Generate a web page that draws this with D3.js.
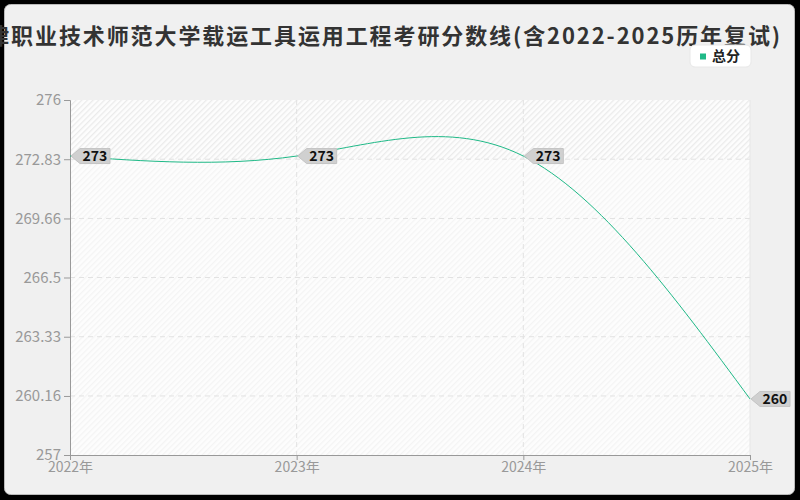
<!DOCTYPE html>
<html>
<head>
<meta charset="utf-8">
<script src="https://cdn.jsdelivr.net/npm/d3@7"></script>
<style>
  html, body { margin: 0; padding: 0; background: #000; }
  svg { display: block; font-family: "Noto Sans CJK SC", "Noto Sans", sans-serif; }
</style>
</head>
<body>
<div id="chart"></div>
<script>
// data
const years = ["2022年", "2023年", "2024年", "2025年"];
const scores = [273, 273, 273, 260];
const yTicks = [257, 260.16, 263.33, 266.5, 269.66, 272.83, 276];
const seriesName = "总分";
const title = "天津职业技术师范大学载运工具运用工程考研分数线(含2022-2025历年复试)";

const width = 800,
    height = 500,
    margin = ({top: 100, right: 50, bottom: 45, left: 70});

let svg = d3.select("#chart")
    .append("svg")
    .attr("width", width)
    .attr("height", height)
    .attr("viewBox", [0, 0, width, height]);

// hatch patterns for the plot background
let defs = svg.append("defs");
function hatch(id, stripe) {
    let p = defs.append("pattern")
        .attr("id", id)
        .attr("patternUnits", "userSpaceOnUse")
        .attr("width", 4).attr("height", 4)
        .attr("patternTransform", "rotate(45)");
    p.append("rect").attr("width", 4).attr("height", 4).attr("fill", "#fdfdfd");
    p.append("rect").attr("width", 1.3).attr("height", 4).attr("fill", stripe);
}
hatch("hatchTop", "#ebebeb");
hatch("hatchLow", "#f4f4f4");

// panel
svg.append("rect")
    .attr("x", 4.5).attr("y", 4.5)
    .attr("width", 790).attr("height", 490)
    .attr("rx", 6)
    .attr("fill", "#f0f0f0")
    .attr("stroke", "#bbb");

// scales
let x = d3.scalePoint()
    .domain(years)
    .range([margin.left, width - margin.right]);

let y = d3.scaleLinear()
    .domain([257, 276])
    .range([height - margin.bottom, margin.top]);

// plot background
svg.append("rect")
    .attr("x", margin.left).attr("y", margin.top)
    .attr("width", width - margin.left - margin.right)
    .attr("height", y(257) - y(276))
    .attr("fill", "url(#hatchLow)");
svg.append("rect")
    .attr("x", margin.left).attr("y", y(276))
    .attr("width", width - margin.left - margin.right)
    .attr("height", y(272.83) - y(276))
    .attr("fill", "url(#hatchTop)");

// grid lines
svg.append("g")
    .selectAll("line")
    .data(yTicks.slice(1, -1))
    .join("line")
    .attr("x1", margin.left).attr("x2", width - margin.right)
    .attr("y1", d => y(d)).attr("y2", d => y(d))
    .attr("stroke", "#e2e2e2")
    .attr("stroke-dasharray", "5,4");

svg.append("g")
    .selectAll("line")
    .data(years.slice(1))
    .join("line")
    .attr("x1", d => x(d)).attr("x2", d => x(d))
    .attr("y1", margin.top).attr("y2", height - margin.bottom)
    .attr("stroke", d => d === years[years.length - 1] ? "#e6e6e6" : "#e2e2e2")
    .attr("stroke-dasharray", d => d === years[years.length - 1] ? null : "5,4");

// axes
let yAxis = svg.append("g")
    .attr("transform", `translate(${margin.left},0)`)
    .call(d3.axisLeft(y).tickValues(yTicks).tickFormat(d => d).tickSize(6).tickPadding(3));

let xAxis = svg.append("g")
    .attr("transform", `translate(0,${height - margin.bottom})`)
    .call(d3.axisBottom(x).tickSize(5).tickPadding(2));

[yAxis, xAxis].forEach(g => {
    g.select(".domain").attr("stroke", "#999");
    g.selectAll(".tick line").attr("stroke", "#999");
    g.selectAll(".tick text")
        .attr("fill", "#999")
        .style("font-size", "14px")
        .style("font-family", "'Noto Sans CJK SC', 'Noto Sans', sans-serif");
});
yAxis.selectAll(".tick text").style("font-size", "15px");
xAxis.select(".domain").attr("d", `M${margin.left},0.5H${width - margin.right}`);

// line
let points = years.map((d, i) => [x(d), y(scores[i])]);
svg.append("path")
    .attr("d", d3.line().curve(d3.curveNatural)(points))
    .attr("fill", "none")
    .attr("stroke", "#1fb987")
    .attr("stroke-width", 1);

// value tags
let tag = svg.append("g")
    .selectAll("g")
    .data(points)
    .join("g")
    .attr("transform", d => `translate(${d[0] + 1},${d[1]})`);

tag.append("path")
    .attr("d", "M0,0L9,-7.5H39V7.5H9Z")
    .attr("fill", "#d0d0d0")
    .attr("stroke", "#c4c4c4");

tag.append("text")
    .text((d, i) => scores[i])
    .attr("x", 11.5)
    .attr("y", 5)
    .style("font-size", "14px")
    .style("font-weight", "bold")
    .style("fill", "#111");

// title
svg.append("text")
    .text(title)
    .attr("x", 782)
    .attr("y", 43.5)
    .attr("text-anchor", "end")
    .style("font-size", "22px")
    .style("letter-spacing", "1.9px")
    .style("font-weight", "bold")
    .style("fill", "#333");

// legend
let legend = svg.append("g").attr("transform", "translate(690,45)");
legend.append("rect")
    .attr("width", 61).attr("height", 22)
    .attr("rx", 5)
    .attr("fill", "#fff")
    .attr("stroke", "#e8e8e8");
legend.append("rect")
    .attr("x", 10).attr("y", 8.5)
    .attr("width", 6).attr("height", 6)
    .attr("fill", "#1fb987");
legend.append("text")
    .text(seriesName)
    .attr("x", 22).attr("y", 16)
    .style("font-size", "14px")
    .style("font-weight", "bold")
    .style("fill", "#222");
</script>
</body>
</html>
